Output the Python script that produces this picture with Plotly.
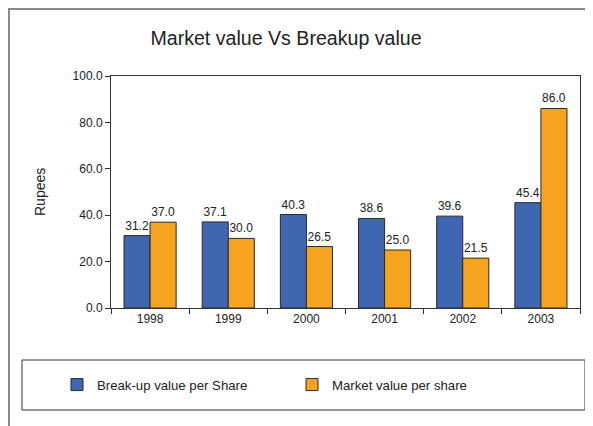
import plotly.graph_objects as go

years = ["1998", "1999", "2000", "2001", "2002", "2003"]
breakup = [31.2, 37.1, 40.3, 38.6, 39.6, 45.4]
market = [37.0, 30.0, 26.5, 25.0, 21.5, 86.0]

FONT = "Liberation Sans, Arial, sans-serif"
W, H = 593, 426
OFF = 8  # page body margin
# plot area in screen pixels: x 111-580, y 76-308
L, T = 111 - OFF, 76 - OFF
PW, PH = 469, 232
R = W - L - PW
B = H - T - PH


def px(x):  # screen x -> paper
    return (x - OFF - L) / PW


def py(y):  # screen y -> paper
    return 1 - (y - OFF - T) / PH


fig = go.Figure()
fig.add_trace(go.Bar(
    x=years, y=breakup, name="Break-up value per Share",
    marker=dict(color="#3F67B1", line=dict(color="#2a2a2a", width=1)),
    text=[f"{v:.1f}" for v in breakup], textposition="outside", cliponaxis=False,
    textfont=dict(family=FONT, size=12, color="#222222"),
))
fig.add_trace(go.Bar(
    x=years, y=market, name="Market value per share",
    marker=dict(color="#F6A31F", line=dict(color="#2a2a2a", width=1)),
    text=[f"{v:.1f}" for v in market], textposition="outside", cliponaxis=False,
    textfont=dict(family=FONT, size=12, color="#222222"),
))

fig.update_layout(
    width=W, height=H,
    margin=dict(l=L, r=R, t=T, b=B, pad=0, autoexpand=False),
    paper_bgcolor="white", plot_bgcolor="white",
    barmode="group", bargap=1/3, bargroupgap=0,
    font=dict(family=FONT, size=12, color="#222222"),
    title=dict(text="Market value Vs Breakup value", x=(286 - OFF) / W, xref="container", xanchor="center",
               y=1 - (38 - OFF) / H, yref="container", yanchor="middle",
               font=dict(family=FONT, size=19.6, color="#222222")),
    showlegend=True,
    legend=dict(orientation="h", x=(57 - OFF) / W, xref="container", xanchor="left",
                y=1 - (385 - OFF) / H, yref="container", yanchor="middle",
                font=dict(family=FONT, size=13.2, color="#222222"),
                bgcolor="rgba(0,0,0,0)", borderwidth=0, entrywidth=190, entrywidthmode="pixels"),
    shapes=[
        dict(type="rect", xref="paper", yref="paper",
             x0=px(OFF + 1), x1=px(W + 20), y0=py(H + 20), y1=py(OFF + 1),
             line=dict(color="#888888", width=2), layer="below"),
        dict(type="rect", xref="paper", yref="paper",
             x0=px(22), x1=px(585), y0=py(410), y1=py(360),
             line=dict(color="#333333", width=1), layer="below"),
    ],
    annotations=[
        dict(text="Rupees", xref="paper", yref="paper", x=px(40), y=py(192),
             xanchor="center", yanchor="middle", textangle=-90, showarrow=False,
             font=dict(family=FONT, size=14, color="#222222")),
    ],
)
fig.update_yaxes(range=[0, 100], dtick=20, tickformat=".1f", ticks="outside", ticklen=5,
                 tickcolor="#333333", showline=True, linecolor="#333333", linewidth=1,
                 mirror=True, showgrid=False, zeroline=False, automargin=False,
                 tickfont=dict(family=FONT, size=12))
fig.update_xaxes(ticks="outside", tickson="boundaries", ticklen=5, tickcolor="#333333",
                 showline=True, linecolor="#333333", linewidth=1, mirror=True, showgrid=False,
                 automargin=False, tickfont=dict(family=FONT, size=12))

fig.write_html("out.html")
